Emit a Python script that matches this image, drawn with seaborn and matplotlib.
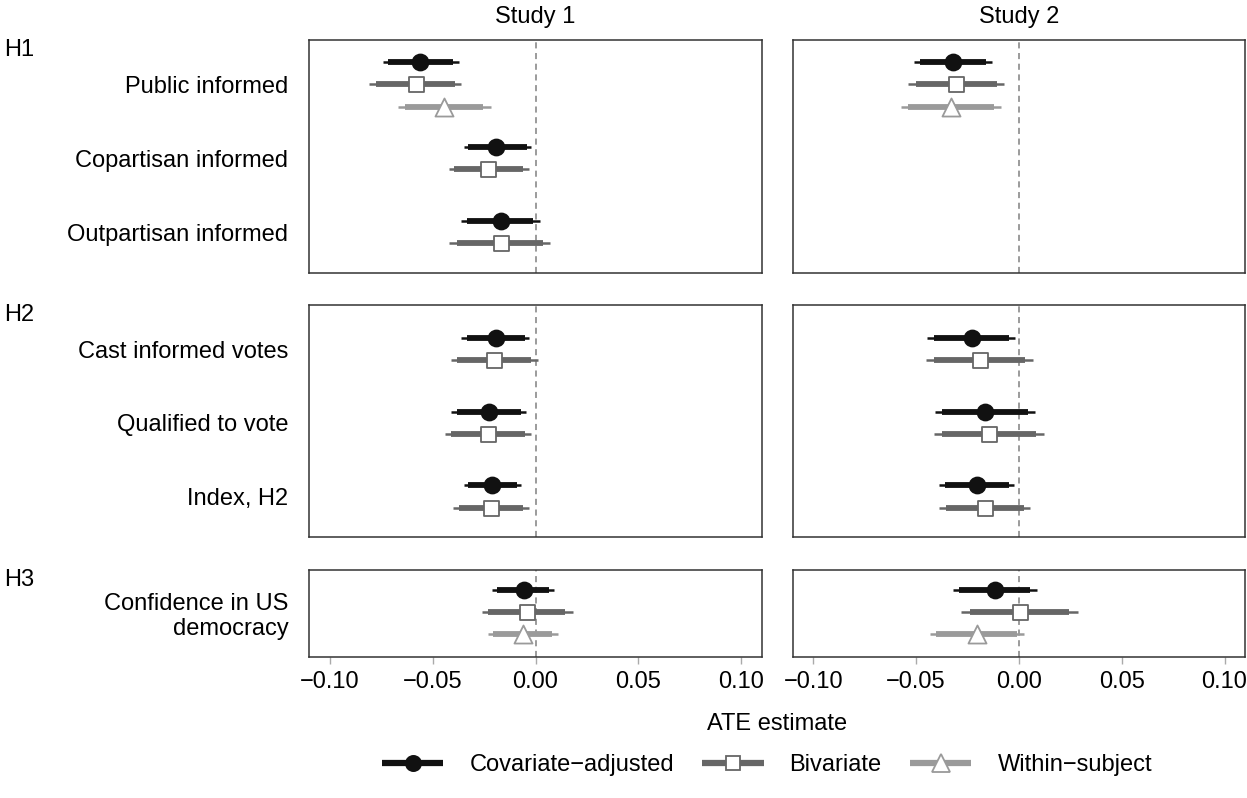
import numpy as np
import pandas as pd
import matplotlib
matplotlib.use("Agg")
import matplotlib.pyplot as plt
from matplotlib.lines import Line2D
import seaborn as sns

# outcomes, grouped by hypothesis
outcomes = ["Public informed", "Copartisan informed", "Outpartisan informed",
            "Cast informed votes", "Qualified to vote", "Index, H2",
            "Confidence in US\ndemocracy"]
hypothesis = ["H1", "H1", "H1", "H2", "H2", "H2", "H3"]
hyp_order = ["H1", "H2", "H3"]
studies = ["Study 1", "Study 2"]
estimators = ["Covariate\u2212adjusted", "Bivariate", "Within\u2212subject"]
xticks = [-0.10, -0.05, 0.00, 0.05, 0.10]
xtick_labels = ["\u22120.10", "\u22120.05", "0.00", "0.05", "0.10"]
nan = np.nan

# Study 1 - covariate adjusted
s1_cov_est = [-0.056, -0.019, -0.017, -0.019, -0.0225, -0.021, -0.0057]
s1_cov_lo95 = [-0.074, -0.035, -0.036, -0.036, -0.041, -0.035, -0.021]
s1_cov_hi95 = [-0.037, -0.002, 0.002, -0.003, -0.0045, -0.007, 0.009]
s1_cov_lo90 = [-0.0715, -0.033, -0.0335, -0.0335, -0.038, -0.033, -0.0185]
s1_cov_hi90 = [-0.040, -0.004, -0.001, -0.005, -0.007, -0.009, 0.0066]
# Study 1 - bivariate
s1_biv_est = [-0.058, -0.023, -0.017, -0.020, -0.023, -0.0215, -0.004]
s1_biv_lo95 = [-0.081, -0.042, -0.042, -0.041, -0.044, -0.040, -0.026]
s1_biv_hi95 = [-0.036, -0.003, 0.007, 0.0013, -0.0023, -0.0033, 0.018]
s1_biv_lo90 = [-0.0775, -0.0395, -0.038, -0.038, -0.041, -0.037, -0.023]
s1_biv_hi90 = [-0.039, -0.006, 0.0037, -0.002, -0.005, -0.006, 0.0144]
# Study 1 - within subject
s1_win_est = [-0.0445, nan, nan, nan, nan, nan, -0.0063]
s1_win_lo95 = [-0.0667, nan, nan, nan, nan, nan, -0.0233]
s1_win_hi95 = [-0.0218, nan, nan, nan, nan, nan, 0.0107]
s1_win_lo90 = [-0.0634, nan, nan, nan, nan, nan, -0.0206]
s1_win_hi90 = [-0.0254, nan, nan, nan, nan, nan, 0.0078]

# Study 2 - covariate adjusted
s2_cov_est = [-0.032, nan, nan, -0.023, -0.0163, -0.0204, -0.0115]
s2_cov_lo95 = [-0.051, nan, nan, -0.0447, -0.041, -0.0388, -0.032]
s2_cov_hi95 = [-0.0131, nan, nan, -0.0019, 0.008, -0.0022, 0.0087]
s2_cov_lo90 = [-0.0482, nan, nan, -0.0414, -0.0374, -0.036, -0.0291]
s2_cov_hi90 = [-0.0162, nan, nan, -0.005, 0.0042, -0.005, 0.0055]
# Study 2 - bivariate
s2_biv_est = [-0.0307, nan, nan, -0.0191, -0.0146, -0.0167, 0.0003]
s2_biv_lo95 = [-0.0539, nan, nan, -0.045, -0.0414, -0.0388, -0.028]
s2_biv_hi95 = [-0.0073, nan, nan, 0.0068, 0.0121, 0.0055, 0.0288]
s2_biv_lo90 = [-0.0501, nan, nan, -0.0413, -0.0374, -0.0356, -0.0236]
s2_biv_hi90 = [-0.0107, nan, nan, 0.0028, 0.0081, 0.0023, 0.0246]
# Study 2 - within subject
s2_win_est = [-0.033, nan, nan, nan, nan, nan, -0.0204]
s2_win_lo95 = [-0.0574, nan, nan, nan, nan, nan, -0.0434]
s2_win_hi95 = [-0.0085, nan, nan, nan, nan, nan, 0.0026]
s2_win_lo90 = [-0.0539, nan, nan, nan, nan, nan, -0.0401]
s2_win_hi90 = [-0.0123, nan, nan, nan, nan, nan, -0.0008]

series = {
    ("Study 1", 0): (s1_cov_est, s1_cov_lo95, s1_cov_hi95, s1_cov_lo90, s1_cov_hi90),
    ("Study 1", 1): (s1_biv_est, s1_biv_lo95, s1_biv_hi95, s1_biv_lo90, s1_biv_hi90),
    ("Study 1", 2): (s1_win_est, s1_win_lo95, s1_win_hi95, s1_win_lo90, s1_win_hi90),
    ("Study 2", 0): (s2_cov_est, s2_cov_lo95, s2_cov_hi95, s2_cov_lo90, s2_cov_hi90),
    ("Study 2", 1): (s2_biv_est, s2_biv_lo95, s2_biv_hi95, s2_biv_lo90, s2_biv_hi90),
    ("Study 2", 2): (s2_win_est, s2_win_lo95, s2_win_hi95, s2_win_lo90, s2_win_hi90),
}

rows = []
for (st, k), (est, lo95, hi95, lo90, hi90) in series.items():
    for i in range(len(outcomes)):
        if np.isnan(est[i]):
            continue
        rows.append(dict(study=st, k=k, outcome=i, hyp=hypothesis[i],
                         est=est[i], lo95=lo95[i], hi95=hi95[i],
                         lo90=lo90[i], hi90=hi90[i]))
df = pd.DataFrame(rows)

# position inside each hypothesis block, then dodge the estimators
df["pos"] = [hypothesis[:o].count(hypothesis[o]) for o in df.outcome]
df["rank"] = df.groupby(["study", "outcome"])["k"].rank(method="first") - 1
df["n"] = df.groupby(["study", "outcome"])["k"].transform("count")
df["y"] = df["pos"] + (df["rank"] - (df["n"] - 1) / 2) * 0.3

line_col = ["#111111", "#666666", "#9a9a9a"]
fill_col = ["#111111", "white", "white"]
markers = ["o", "s", "^"]
msize = [11.5, 10.8, 13.0]

sns.set_theme(style="white")
plt.rcParams["font.family"] = ["Liberation Sans", "DejaVu Sans"]
plt.rcParams["font.size"] = 17
plt.rcParams["text.color"] = "black"
plt.rcParams["xtick.labelcolor"] = "black"
plt.rcParams["ytick.labelcolor"] = "black"

fig = plt.figure(figsize=(12.47, 7.98), dpi=100)
W, H = 1247.0, 798.0
col_x = [309.3, 792.7]
col_w = 452.4
row_y = [(40, 273), (305, 537), (570, 657)]
row_lim = [(2.55, -0.6), (2.55, -0.6), (0.61, -0.57)]

for r, h in enumerate(hyp_order):
    labels = [o for o, hh in zip(outcomes, hypothesis) if hh == h]
    top, bot = row_y[r]
    fig.text(4 / W, 1 - (top - 1) / H, h, ha="left", va="top", fontsize=17)
    for c, st in enumerate(studies):
        ax = fig.add_axes([col_x[c] / W, 1 - bot / H, col_w / W, (bot - top) / H])
        sub = df[(df.hyp == h) & (df.study == st)]
        ax.axvline(0, color="#808080", lw=1.1, ls=(0, (4, 3)), zorder=1)
        for k in range(3):
            d = sub[sub.k == k]
            if len(d) == 0:
                continue
            ax.hlines(d.y, d.lo95, d.hi95, colors=line_col[k], lw=1.8, zorder=2)
            ax.hlines(d.y, d.lo90, d.hi90, colors=line_col[k], lw=4.2, zorder=2)
            sns.scatterplot(data=d, x="est", y="y", marker=markers[k],
                            s=msize[k] ** 2, color=fill_col[k],
                            edgecolor=line_col[k], linewidth=1.3,
                            ax=ax, zorder=3, legend=False)
        ax.set_xlim(-0.11, 0.11)
        ax.set_ylim(*row_lim[r])
        ax.set_xlabel("")
        ax.set_ylabel("")
        ax.set_yticks(range(len(labels)))
        if c == 0:
            ax.set_yticklabels(labels, fontsize=17)
        else:
            ax.set_yticklabels([])
        ax.tick_params(axis="y", length=0, pad=15)
        ax.set_xticks(xticks)
        if r == 2:
            ax.set_xticklabels(xtick_labels, fontsize=17)
            ax.tick_params(axis="x", bottom=True, length=5, width=1,
                           color="#aaaaaa", pad=5)
        else:
            ax.set_xticklabels([])
            ax.tick_params(axis="x", length=0)
        for sp in ax.spines.values():
            sp.set_visible(True)
            sp.set_color("#333333")
            sp.set_linewidth(1.1)
        if r == 0:
            ax.set_title(st, fontsize=17, pad=12)

fig.text(777 / W, 1 - 724 / H, "ATE estimate", ha="center", va="center", fontsize=17)

handles = [Line2D([0], [0], color=line_col[k], lw=4.5, marker=markers[k],
                  markersize=msize[k] * 0.95, markerfacecolor=fill_col[k],
                  markeredgecolor=line_col[k], markeredgewidth=1.3,
                  solid_capstyle="butt")
           for k in range(3)]
fig.legend(handles, estimators, loc="center", bbox_to_anchor=(767 / W, 1 - 765 / H),
           ncol=3, frameon=False, fontsize=17, handlelength=2.6,
           handletextpad=1.1, columnspacing=1.2)

fig.savefig("out.png", dpi=100)
